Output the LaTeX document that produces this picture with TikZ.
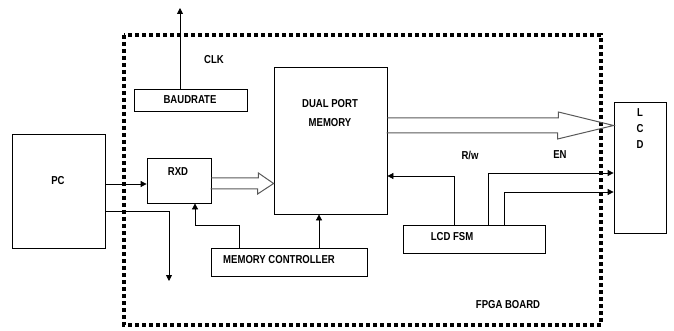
\documentclass[tikz,border=0pt]{standalone}
\usepackage{fontspec}
\setmainfont{Liberation Sans}[FakeStretch=0.83]
\usetikzlibrary{arrows.meta}
\begin{document}
\begin{tikzpicture}[x=1pt,y=-1pt,
  box/.style={draw,line width=0.8pt,inner sep=0pt},
  txt/.style={font=\fontsize{11.5}{13}\selectfont\bfseries,inner sep=0pt},
  conn/.style={line width=0.8pt,-{Triangle[length=6pt,width=6pt]}},
  hollow/.style={draw=black!65,line width=1pt,line join=miter},
  border/.style={line width=3.8pt,dash pattern=on 3.8pt off 3.2pt}]
\useasboundingbox (0,0) rectangle (674,331);
% FPGA board border
\draw[border] (124,35) rectangle (601,325);
% blocks
\node[box,minimum width=93pt,minimum height=114pt] (pc) at (58.5,191) {};
\node[txt] (pclbl) at (58,181) {PC};
\node[box,minimum width=113pt,minimum height=22pt] (baud) at (190.5,100) {};
\node[txt] (baudlbl) at (190,100) {BAUDRATE};
\node[box,minimum width=64pt,minimum height=45pt] (rxd) at (179,180.5) {};
\node[txt] (rxdlbl) at (178,172) {RXD};
\node[box,minimum width=113pt,minimum height=147pt] (dpm) at (330.5,140.5) {};
\node[txt,align=center,font=\fontsize{11.5}{19}\selectfont\bfseries] (dpmlbl) at (330,113.5) {DUAL PORT\\MEMORY};
\node[box,minimum width=156pt,minimum height=28pt] (mc) at (289,262) {};
\node[txt] (mclbl) at (279,260) {MEMORY CONTROLLER};
\node[box,minimum width=142pt,minimum height=28pt] (fsm) at (474,239) {};
\node[txt] (fsmlbl) at (452,237) {LCD FSM};
\node[box,minimum width=52pt,minimum height=131pt] (lcd) at (640,167.5) {};
\node[txt,align=center,font=\fontsize{11.5}{16}\selectfont\bfseries] (lcdlbl) at (640,129) {L\\C\\D};
% labels
\node[txt] (clk) at (214,60) {CLK};
\node[txt] (rw) at (470,155) {R/w};
\node[txt] (en) at (560,155) {EN};
\node[txt] (fpga) at (508,305) {FPGA BOARD};
% connectors
\coordinate (clktop) at (180,8);
\draw[conn] (baud.north -| clktop) -- (clktop);
\coordinate (p1) at (0,184);
\draw[conn] (pc.east |- p1) -- (rxd.west |- p1);
\coordinate (p2) at (169,211);
\coordinate (p2end) at (169,281);
\draw[conn] (pc.east |- p2) -- (p2) -- (p2end);
\coordinate (m1) at (239,225);
\coordinate (m1b) at (195,225);
\draw[conn] (mc.north -| m1) -- (m1) -- (m1b) -- (rxd.south -| m1b);
\coordinate (m2) at (319,0);
\draw[conn] (mc.north -| m2) -- (dpm.south -| m2);
\coordinate (f1) at (454,176);
\draw[conn] (fsm.north -| f1) -- (f1) -- (dpm.east |- f1);
\coordinate (f2) at (488,173);
\draw[conn] (fsm.north -| f2) -- (f2) -- (lcd.west |- f2);
\coordinate (f3) at (504,192);
\draw[conn] (fsm.north -| f3) -- (f3) -- (lcd.west |- f3);
% hollow data arrows
\coordinate (h1) at (211,183.5);
\draw[hollow] (rxd.east |- h1) ++(0,-5.5) -- ++(47,0) -- ++(0,-5) -- (dpm.west |- h1) -- ++(-16,10.5) -- ++(0,-5) -- ++(-47,0);
\coordinate (h2) at (387,125.5);
\draw[hollow] (dpm.east |- h2) ++(0,-7.5) -- ++(171,0) -- ++(0,-6) -- (lcd.west |- h2) -- ++(-56,13.5) -- ++(0,-6) -- ++(-171,0);
\end{tikzpicture}
\end{document}
